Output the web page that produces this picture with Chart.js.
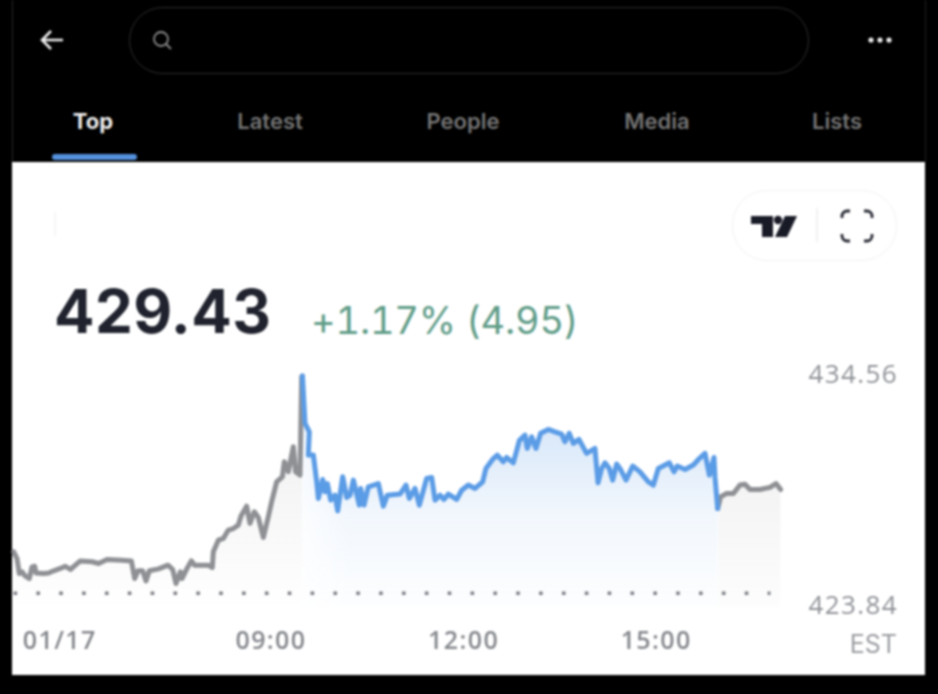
<!DOCTYPE html>
<html><head><meta charset="utf-8">
<script src="https://cdn.jsdelivr.net/npm/chart.js@4"></script>
<style>
html,body{margin:0;padding:0;background:#000;width:938px;height:694px;overflow:hidden}
#root{position:relative;width:938px;height:694px;background:#000;font-family:Inter,"Liberation Sans",sans-serif;filter:blur(.8px)}
#root>*{position:absolute}
#card{left:12px;top:162px;width:913px;height:513px;background:#fff}
#edge{left:12px;top:0;width:1px;height:162px;background:#2a2a2a}
#edgeR{left:925px;top:0;width:1px;height:162px;background:#222}
#pill{left:129px;top:7px;width:678px;height:65px;border:1.5px solid #2e2e2e;border-radius:34px;box-sizing:content-box}
.tab{top:107px;font-size:22px;font-weight:600;color:#747474;transform:translateX(-50%);line-height:28px}
#under{left:52px;top:154px;width:85px;height:6px;background:#5490dc;border-radius:3px}
#btns{left:732px;top:190px;width:163px;height:69px;border:1.5px solid #f2f2f2;border-radius:35px}
#div{left:816px;top:208px;width:2px;height:34px;background:#f1f1f1}
#mark{left:54px;top:212px;width:2px;height:24px;background:#f6f6f6}
#price{left:54px;top:275px;font-size:60px;font-weight:700;color:#20232e;line-height:72px;letter-spacing:.4px}
#chg{left:311px;top:297px;font-size:38px;font-weight:400;color:#5f9c87;line-height:46px;font-variant-numeric:tabular-nums;letter-spacing:-.2px;white-space:nowrap}
#est{right:41px;top:629px;font-size:25px;color:#9a9da1;line-height:30px}
canvas{left:0;top:0}
</style></head><body>
<div id="root">
<div id="edge"></div><div id="edgeR"></div>
<div id="card"></div>
<svg style="left:38px;top:28px" width="28" height="24" viewBox="0 0 28 24"><path d="M25 12H4M13 3l-9 9 9 9" fill="none" stroke="#eee" stroke-width="2.6"/></svg>
<div id="pill"></div>
<svg style="left:150px;top:28px" width="24" height="24" viewBox="0 0 24 24"><circle cx="11" cy="11" r="7" fill="none" stroke="#8a8a8a" stroke-width="1.8"/><path d="M16 16l5 5" stroke="#8a8a8a" stroke-width="1.8"/></svg>
<svg style="left:866px;top:34px" width="28" height="12" viewBox="0 0 28 12"><circle cx="5" cy="6" r="2.6" fill="#eee"/><circle cx="14" cy="6" r="2.6" fill="#eee"/><circle cx="23" cy="6" r="2.6" fill="#eee"/></svg>
<div class="tab" style="left:93px;color:#eee;font-weight:700">Top</div>
<div class="tab" style="left:270px">Latest</div>
<div class="tab" style="left:463px">People</div>
<div class="tab" style="left:657px">Media</div>
<div class="tab" style="left:837px">Lists</div>
<div id="under"></div>
<div id="mark"></div>
<div id="btns"></div><div id="div"></div>
<svg style="left:750px;top:212px" width="48" height="28" viewBox="0 0 48 28"><path d="M1 4H23V25H12V12H1Z" fill="#181a26"/><circle cx="28" cy="8" r="4.2" fill="#181a26"/><path d="M35 4H47L37 25H25Z" fill="#181a26"/></svg>
<svg style="left:839px;top:208px" width="36" height="36" viewBox="0 0 36 36"><path d="M3 10V8a5 5 0 0 1 5-5h3M25 3h3a5 5 0 0 1 5 5v2M33 26v2a5 5 0 0 1-5 5h-3M11 33H8a5 5 0 0 1-5-5v-2" fill="none" stroke="#2a2c36" stroke-width="2.8"/></svg>
<div id="price">429.43</div>
<div id="chg">+1.17% (4.95)</div>
<canvas id="c" width="938" height="694" style="position:absolute;width:938px;height:694px"></canvas>
<div id="est">EST</div>
</div>
<script>
const preTimes=[4.992,5.044,5.080,5.122,5.174,5.236,5.278,5.319,5.340,5.459,5.537,5.615,5.719,5.797,5.875,5.953,6.030,6.212,6.316,6.446,6.679,6.825,6.877,6.929,7.001,7.053,7.105,7.250,7.396,7.469,7.520,7.588,7.614,7.692,7.759,7.811,8.024,8.086,8.102,8.180,8.258,8.335,8.413,8.491,8.533,8.621,8.673,8.740,8.803,8.881,8.958,9.010,9.088,9.177,9.208,9.270,9.348,9.384,9.452,9.478,9.49];
const prePrices=[426.40,426.09,425.39,425.47,425.27,425.16,425.70,425.73,425.42,425.39,425.42,425.52,425.63,425.73,425.58,425.78,425.98,425.94,425.86,426.04,426.01,425.98,425.16,425.52,425.52,425.05,425.52,425.61,425.78,425.58,424.93,425.47,425.16,425.63,425.98,425.78,425.78,425.67,426.40,426.94,427.02,427.41,427.48,427.64,428.06,428.52,427.72,428.26,428.00,427.07,428.03,428.72,429.65,429.88,430.58,430.12,431.28,430.12,429.96,434.54,434.56];
const regTimes=[9.49,9.530,9.597,9.582,9.660,9.712,9.738,9.805,9.841,9.878,9.930,9.997,10.039,10.117,10.179,10.231,10.283,10.376,10.397,10.449,10.516,10.672,10.750,10.812,11.010,11.103,11.155,11.243,11.311,11.425,11.503,11.555,11.633,11.695,11.762,11.892,11.970,12.074,12.178,12.297,12.348,12.463,12.525,12.618,12.670,12.774,12.836,12.868,12.956,12.992,13.060,13.127,13.200,13.319,13.423,13.527,13.579,13.646,13.709,13.797,13.916,14.046,14.094,14.151,14.203,14.270,14.322,14.384,14.436,14.530,14.634,14.748,14.878,14.956,15.033,15.205,15.278,15.329,15.449,15.579,15.672,15.760,15.828,15.900,15.916,15.958];
const regPrices=[434.56,432.36,431.97,430.89,430.89,429.65,428.88,429.76,429.19,429.57,428.80,429.03,428.30,429.88,428.92,429.03,429.73,428.57,429.34,428.57,429.42,429.57,428.52,429.03,429.08,429.50,428.88,429.34,428.57,429.81,429.85,428.80,429.03,428.83,429.08,428.83,429.26,429.50,429.34,429.65,430.27,430.73,430.89,430.58,430.78,430.53,431.20,431.56,431.82,431.20,431.74,431.20,431.90,432.08,431.97,431.86,431.51,431.90,431.43,431.62,430.97,431.20,429.60,430.27,430.53,430.27,429.73,430.47,430.27,429.73,430.38,430.11,429.65,429.50,430.27,430.53,430.11,430.38,430.22,430.43,430.73,430.97,429.96,430.78,429.85,428.41];
const postTimes=[15.958,16.004,16.098,16.202,16.305,16.383,16.461,16.617,16.773,16.866,16.939];
const postPrices=[428.41,428.95,429.11,429.11,429.50,429.54,429.29,429.29,429.39,429.57,429.29];
const closeTimes=[4.99,16.78];
const closePrices=[424.48,424.48];
const xTickValues=[5.71,9,12,15];
const xTickLabels=['01/17','09:00','12:00','15:00'];
const yTickValues=[423.84,434.56];
const yTickLabels=['423.84','434.56'];

const zip=(t,p)=>t.map((x,i)=>({x,y:p[i]}));
function grad(rgb,a0,a1){return function(ctx){
  const ca=ctx.chart.chartArea; if(!ca) return 'transparent';
  const g=ctx.chart.ctx.createLinearGradient(0,ca.top+50,0,ca.bottom);
  g.addColorStop(0,`rgba(${rgb},${a0})`);g.addColorStop(1,`rgba(${rgb},${a1})`);return g;};}
let bluePattern=null;
function blueFill(ctx){
  const chart=ctx.chart,ca=chart.chartArea; if(!ca) return 'transparent';
  if(bluePattern) return bluePattern;
  const off=document.createElement('canvas');off.width=chart.width;off.height=chart.height;
  const o=off.getContext('2d');
  const v=o.createLinearGradient(0,ca.top+50,0,ca.bottom);
  v.addColorStop(0,'rgba(91,156,230,.24)');v.addColorStop(.5,'rgba(91,156,230,.08)');v.addColorStop(1,'rgba(91,156,230,.01)');
  o.fillStyle=v;o.fillRect(0,0,off.width,off.height);
  const sx=chart.scales.x, x0=sx.getPixelForValue(regTimes[0]);
  const h=o.createLinearGradient(x0,0,x0+45,0);
  h.addColorStop(0,'rgba(0,0,0,.3)');h.addColorStop(1,'rgba(0,0,0,1)');
  o.globalCompositeOperation='destination-in';o.fillStyle=h;o.fillRect(0,0,off.width,off.height);
  bluePattern=chart.ctx.createPattern(off,'no-repeat');
  return bluePattern;
}
const line={pointRadius:0,tension:0,borderWidth:5,borderJoinStyle:'round',borderCapStyle:'round',clip:false,fill:'start'};
new Chart(document.getElementById('c'),{
 type:'line',
 data:{datasets:[
  {...line,label:'Previous close',data:zip(closeTimes,closePrices),borderColor:'#7b7e84',borderWidth:3.6,borderDash:[3.6,19.25],borderCapStyle:'butt',fill:false,order:3},
  {...line,label:'Pre-market',data:zip(preTimes,prePrices),borderColor:'#8e9094',backgroundColor:grad('150,150,155',.14,0),order:2},
  {...line,label:'Post-market',data:zip(postTimes,postPrices),borderColor:'#8e9094',backgroundColor:grad('150,150,155',.15,.02),order:2},
  {...line,label:'Regular',data:zip(regTimes,regPrices),borderColor:'#5b9ce6',backgroundColor:blueFill,order:1}
 ]},
 plugins:[{id:'tickSpacing',beforeDraw:c=>{c.ctx.letterSpacing='1.4px';}}],
 options:{
  responsive:false,animation:false,devicePixelRatio:1,
  layout:{padding:{left:12,top:376,right:40,bottom:0}},
  plugins:{legend:{display:false},tooltip:{enabled:false}},
  scales:{
   x:{type:'linear',min:4.966,max:17.24,
    grid:{display:false},border:{display:false},
    afterBuildTicks:s=>{s.ticks=xTickValues.map(value=>({value}));},
    afterFit:s=>{s.height=87;},
    ticks:{autoSkip:false,maxRotation:0,padding:12,color:'#85888d',font:{family:'Open Sans',size:25,weight:'600'},
      callback:v=>xTickLabels[xTickValues.indexOf(v)]}},
   y:{type:'linear',position:'right',min:423.84,max:434.56,
    grid:{display:false},border:{display:false},
    afterBuildTicks:s=>{s.ticks=yTickValues.map(value=>({value}));},
    afterFit:s=>{s.width=98;},
    ticks:{autoSkip:false,padding:0,crossAlign:'far',color:'#8f9297',font:{family:'Open Sans',size:26,weight:'400'},
      callback:v=>yTickLabels[yTickValues.indexOf(v)]}}
  }
 }
});
</script>
</body></html>
